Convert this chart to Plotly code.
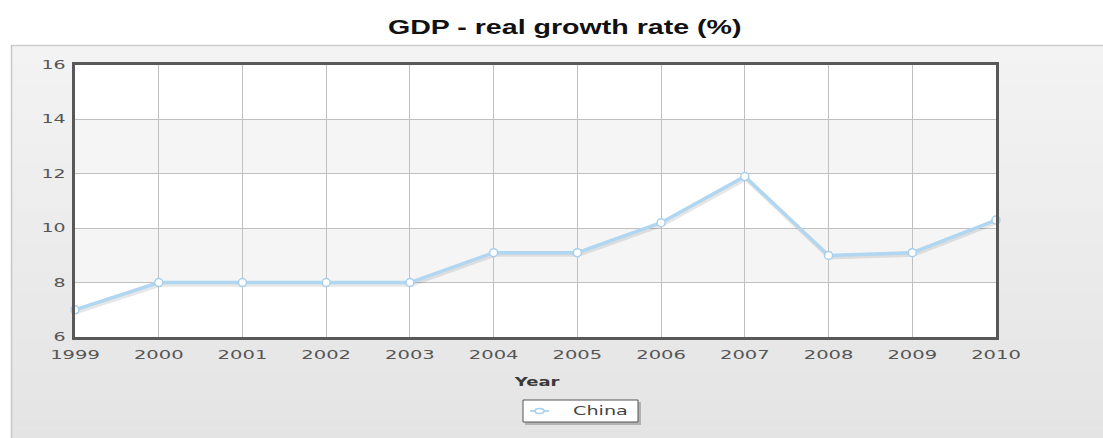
import plotly.graph_objects as go

# GDP real growth rate, China
years = [1999, 2000, 2001, 2002, 2003, 2004, 2005, 2006, 2007, 2008, 2009, 2010]
china_growth = [7.0, 8.0, 8.0, 8.0, 8.0, 9.1, 9.1, 10.2, 11.9, 9.0, 9.1, 10.3]
y_ticks = [6, 8, 10, 12, 14, 16]
x_tick_labels = [str(y) for y in years]
series_name = "China"
chart_title = "GDP - real growth rate (%)"
x_title = "Year"

# page geometry (pixels)
WIDTH, HEIGHT = 1103, 438
L, T, PW, PH = 75, 65, 921, 272


def fx(px):
    return (px - L) / PW


def fy(py):
    return (T + PH - py) / PH


LINE_BLUE = "#b0d6f1"
MARK_BLUE = "#a6d0ee"

shapes = []

# grey gradient panel behind the chart
n_strips = 40
top, bottom = 45, HEIGHT
for i in range(n_strips):
    y0 = top + (bottom - top) * i / n_strips
    y1 = top + (bottom - top) * (i + 1) / n_strips + 0.5
    c = round(243 - (243 - 228) * i / (n_strips - 1))
    shapes.append(dict(type="rect", xref="paper", yref="paper",
                       x0=fx(11), x1=fx(WIDTH), y0=fy(y1), y1=fy(y0),
                       fillcolor=f"rgb({c},{c},{c})", line=dict(width=0), layer="below"))
shapes.append(dict(type="line", xref="paper", yref="paper",
                   x0=fx(11), x1=fx(WIDTH), y0=fy(45.5), y1=fy(45.5),
                   line=dict(color="#cdcdcd", width=1.5), layer="below"))
shapes.append(dict(type="line", xref="paper", yref="paper",
                   x0=fx(11.5), x1=fx(11.5), y0=fy(45), y1=fy(HEIGHT),
                   line=dict(color="#c8c8c8", width=1.5), layer="below"))

# white plot area with alternating light bands
shapes.append(dict(type="rect", xref="x", yref="y",
                   x0=years[0], x1=years[-1], y0=y_ticks[0], y1=y_ticks[-1],
                   fillcolor="white", line=dict(width=0), layer="below"))
for b0 in y_ticks[1::2][:2]:
    shapes.append(dict(type="rect", xref="x", yref="y",
                       x0=years[0], x1=years[-1], y0=b0, y1=b0 + 2,
                       fillcolor="#f5f5f5", line=dict(width=0), layer="below"))

# legend box with drop shadow
shapes.append(dict(type="rect", xref="paper", yref="paper",
                   x0=fx(525), x1=fx(641), y0=fy(425), y1=fy(402),
                   fillcolor="rgba(0,0,0,0.22)", line=dict(width=0), layer="above"))
shapes.append(dict(type="rect", xref="paper", yref="paper",
                   x0=fx(523), x1=fx(638), y0=fy(422), y1=fy(400),
                   fillcolor="white", line=dict(color="#555555", width=1), layer="above"))
shapes.append(dict(type="line", xref="paper", yref="paper",
                   x0=fx(530), x1=fx(549), y0=fy(411), y1=fy(411),
                   line=dict(color=LINE_BLUE, width=2), layer="above"))
shapes.append(dict(type="circle", xref="paper", yref="paper",
                   x0=fx(535), x1=fx(544), y0=fy(413.5), y1=fy(408.5),
                   fillcolor="white", line=dict(color=MARK_BLUE, width=1.5), layer="above"))

fig = go.Figure()

# soft shadow under the series line
fig.add_trace(go.Scatter(
    x=[v + 0.012 for v in years], y=[v - 0.08 for v in china_growth],
    mode="lines", line=dict(color="rgba(60,60,60,0.13)", width=4),
    hoverinfo="skip", showlegend=False, cliponaxis=False))

fig.add_trace(go.Scatter(
    x=years, y=china_growth, name=series_name, mode="lines+markers",
    line=dict(color=LINE_BLUE, width=3.5),
    marker=dict(symbol="circle", size=8, color="white",
                line=dict(color=MARK_BLUE, width=1.5)),
    showlegend=False, cliponaxis=False))

tick_font = dict(family="DejaVu Sans", size=11.5, color="#555555")
axis_common = dict(showgrid=True, gridcolor="#c0c0c0", gridwidth=1,
                   showline=True, linecolor="#585858", linewidth=3, mirror=True,
                   ticks="", zeroline=False, tickfont=tick_font, fixedrange=True)

fig.update_xaxes(range=[years[0], years[-1]], tickvals=years, ticktext=x_tick_labels,
                 ticklabelstandoff=5, **axis_common)
fig.update_yaxes(range=[y_ticks[0], y_ticks[-1]], tickvals=y_ticks,
                 ticktext=[str(v) for v in y_ticks], ticklabelstandoff=4, **axis_common)

annotations = [
    dict(text=chart_title, xref="paper", yref="paper", x=fx(564), y=fy(27),
         xanchor="center", yanchor="middle", showarrow=False,
         font=dict(family="Liberation Sans", size=20, color="#111111", weight="bold")),
    dict(text=x_title, xref="paper", yref="paper", x=fx(536), y=fy(381.5),
         xanchor="center", yanchor="middle", showarrow=False,
         font=dict(family="DejaVu Sans", size=12, color="#3a3a3a", weight="bold")),
    dict(text=series_name, xref="paper", yref="paper", x=fx(571), y=fy(411),
         xanchor="left", yanchor="middle", align="left", showarrow=False,
         font=dict(family="DejaVu Sans", size=12, color="#444444")),
]

fig.update_layout(
    width=WIDTH, height=HEIGHT,
    margin=dict(l=L, r=WIDTH - L - PW, t=T, b=HEIGHT - T - PH, autoexpand=False),
    paper_bgcolor="white", plot_bgcolor="white",
    shapes=shapes, annotations=annotations, showlegend=False,
)

# widen the text horizontally, keeping each label's anchor point fixed
widen_text = """
var gd = document.querySelector('.js-plotly-plot');
function widen(sel, s) {
  gd.querySelectorAll(sel).forEach(function (t) {
    var b = t.getBBox();
    var a = t.getAttribute('text-anchor') || 'start';
    var cx = a === 'middle' ? b.x + b.width / 2 : (a === 'end' ? b.x + b.width : b.x);
    var tr = t.getAttribute('transform') || '';
    t.setAttribute('transform', tr + ' translate(' + cx + ',0) scale(' + s + ',1) translate(' + (-cx) + ',0)');
  });
}
widen('.xtick text', 1.7);
widen('.ytick text', 1.65);
widen('.annotation[data-index="0"] text', 1.43);
widen('.annotation[data-index="1"] text', 1.5);
widen('.annotation[data-index="2"] text', 1.6);
"""

fig.write_html("out.html", post_script=widen_text, config={"displayModeBar": False})
